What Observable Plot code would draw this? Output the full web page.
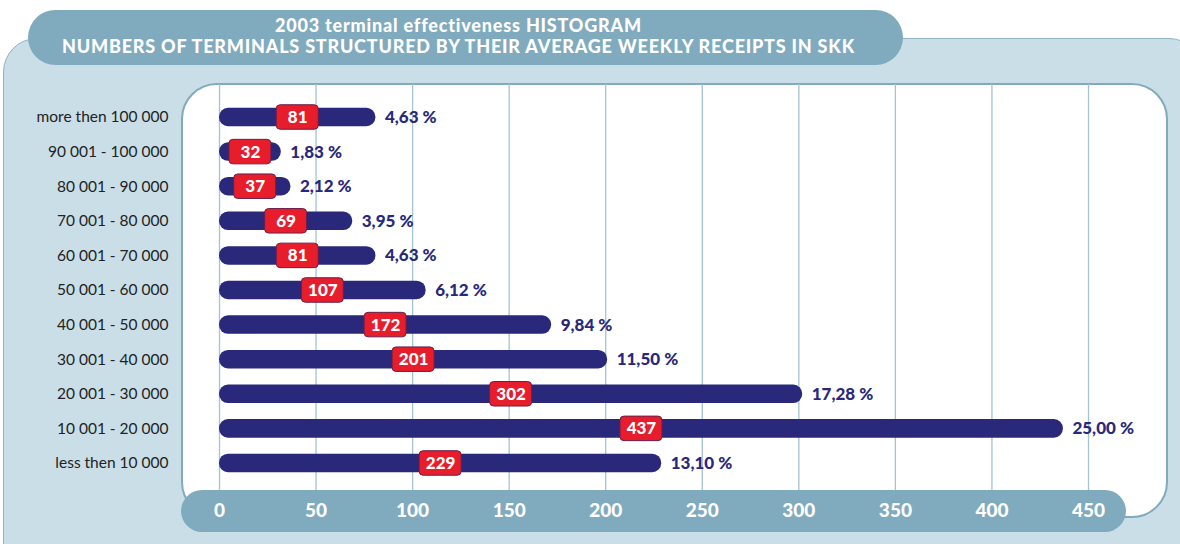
<!DOCTYPE html>
<html>
<head>
<meta charset="utf-8">
<script src="https://cdn.jsdelivr.net/npm/d3@7"></script>
<script src="https://cdn.jsdelivr.net/npm/@observablehq/plot@0.6"></script>
<style>
  html, body { margin: 0; padding: 0; background: #ffffff; }
  #wrap { position: relative; width: 1180px; height: 544px; overflow: hidden; font-family: Lato, "Open Sans", sans-serif; }
  .deco { position: absolute; box-sizing: border-box; }
  #outer { left: 3px; top: 38px; width: 1200px; height: 540px; background: #cadee7; border: 1px solid #8fb3c5; border-radius: 34px 34px 0 34px; }
  #tab { left: 28px; top: 10px; width: 875px; height: 55px; background: #80aabe; border-radius: 28px; color: #fff; text-align: center; font-weight: 900; font-size: 18px; letter-spacing: 0.8px; line-height: 21px; padding-top: 5px; padding-right: 14px; }
  #inner { left: 181px; top: 83px; width: 987px; height: 435px; background: #fff; border: 2.5px solid #80aabe; border-radius: 36px; }
  #band { left: 181px; top: 490px; width: 945px; height: 42px; background: #80aabe; border-radius: 21px; }
  #chart { position: absolute; left: 0; top: 0; }
</style>
</head>
<body>
<div id="wrap">
  <div class="deco" id="outer"></div>
  <div class="deco" id="tab"><div>2003 terminal effectiveness HISTOGRAM</div><div>NUMBERS OF TERMINALS STRUCTURED BY THEIR AVERAGE WEEKLY RECEIPTS IN SKK</div></div>
  <div class="deco" id="inner"></div>
  <div class="deco" id="band"></div>
  <div id="chart"></div>
</div>
<script>
const categories = [
  "more then 100 000",
  "90 001 - 100 000",
  "80 001 - 90 000",
  "70 001 - 80 000",
  "60 001 - 70 000",
  "50 001 - 60 000",
  "40 001 - 50 000",
  "30 001 - 40 000",
  "20 001 - 30 000",
  "10 001 - 20 000",
  "less then 10 000"
];
const counts = [81, 32, 37, 69, 81, 107, 172, 201, 302, 437, 229];
const percents = ["4,63 %", "1,83 %", "2,12 %", "3,95 %", "4,63 %", "6,12 %", "9,84 %", "11,50 %", "17,28 %", "25,00 %", "13,10 %"];
const xTicks = [0, 50, 100, 150, 200, 250, 300, 350, 400, 450];

const data = categories.map((c, i) => ({range: c, count: counts[i], pct: percents[i]}));

const navy = "#29287a";
const red = "#e81d2b";

const chart = Plot.plot({
  width: 1180,
  height: 544,
  marginLeft: 219,
  marginRight: 92,
  marginTop: 84,
  marginBottom: 54,
  style: {background: "transparent", fontFamily: "Lato, 'Open Sans', sans-serif", overflow: "visible"},
  x: {domain: [0, 450]},
  y: {domain: categories, paddingInner: 0.465, paddingOuter: 0.6, align: 0.572, round: false},
  marks: [
    Plot.ruleX(xTicks, {stroke: "#a3c3d2", strokeWidth: 1.3}),
    Plot.barX(data, {x: "count", y: "range", fill: navy, rx: 9}),
    Plot.barX(data, {
      x1: d => d.count / 2, x2: d => d.count / 2, y: "range",
      insetLeft: -21, insetRight: -21, insetTop: -3, insetBottom: -3,
      fill: red, stroke: "#6a1f4a", strokeWidth: 1, rx: 4
    }),
    Plot.text(data, {x: d => d.count / 2, y: "range", text: d => String(d.count), fill: "white", fontWeight: 900, fontSize: 17, letterSpacing: "0.5px"}),
    Plot.text(data, {x: "count", y: "range", text: "pct", textAnchor: "start", dx: 9, fill: navy, fontWeight: 900, fontSize: 17, letterSpacing: "0.6px"}),
    Plot.axisY({tickSize: 0, tickPadding: 51, fontSize: 15.5, color: "#222", label: null}),
    Plot.axisX({ticks: xTicks, tickSize: 0, tickPadding: 13, fontSize: 19, fontWeight: 900, letterSpacing: "0.8px", color: "white", label: null})
  ]
});
document.getElementById("chart").appendChild(chart);
</script>
</body>
</html>
